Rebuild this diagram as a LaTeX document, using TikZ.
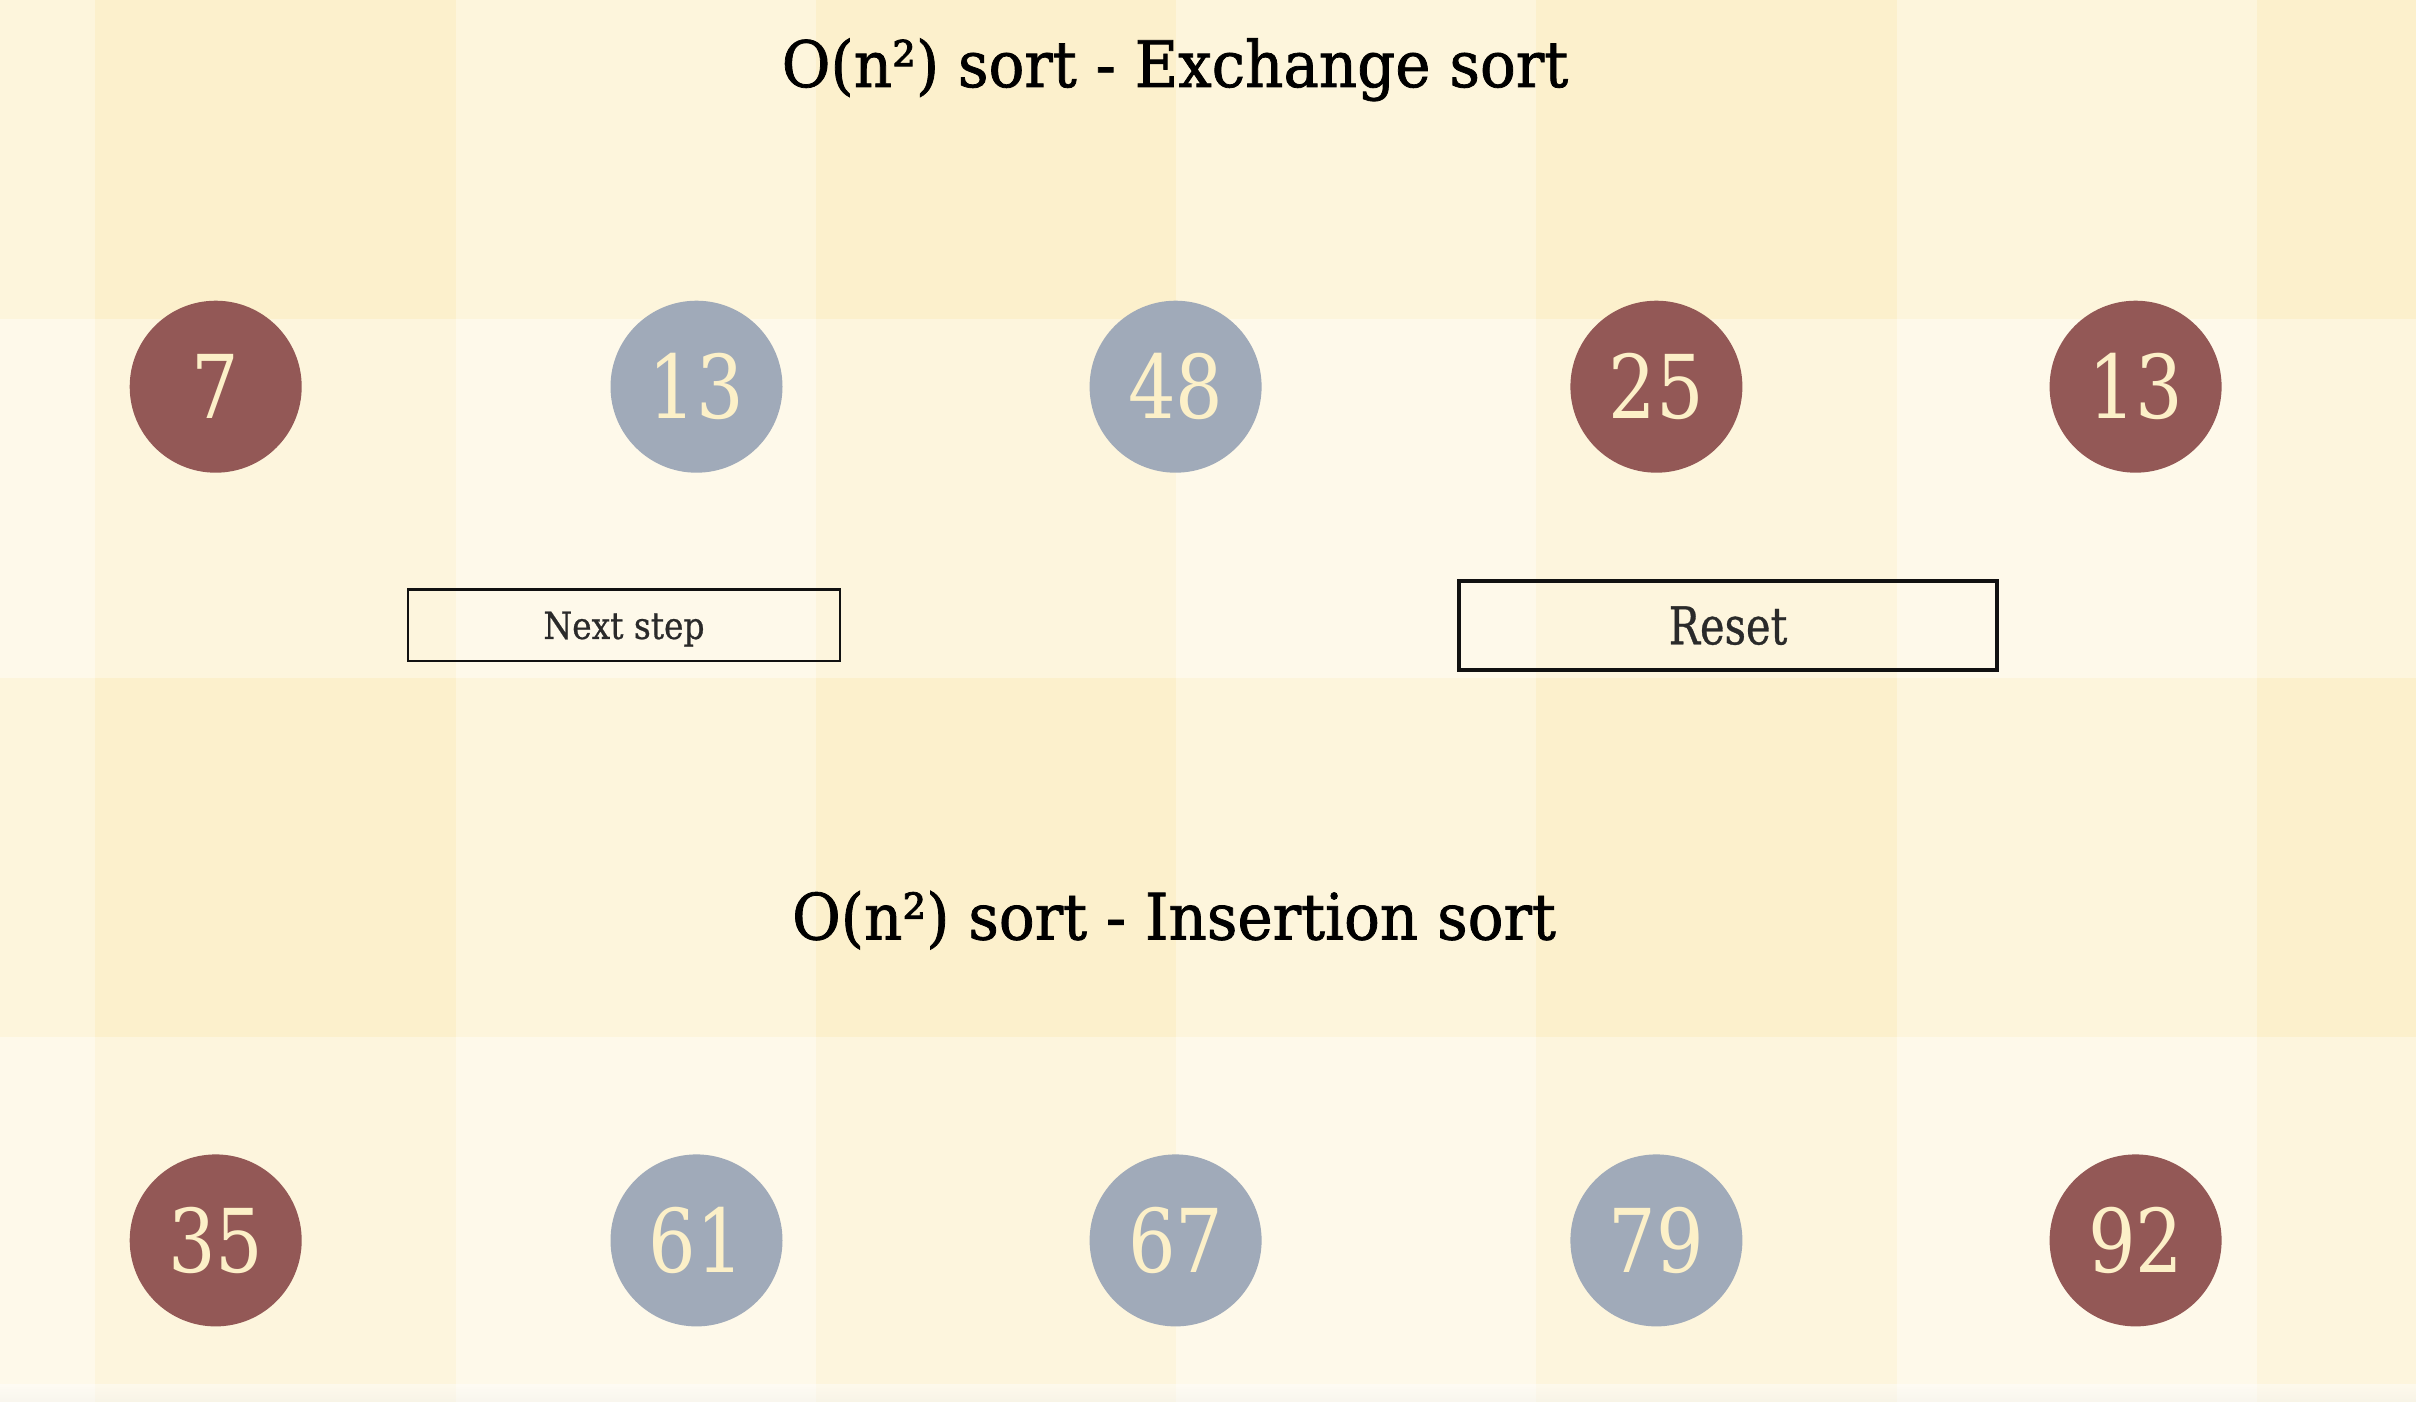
\documentclass[tikz,border=0pt]{standalone}
\usepackage{fontspec}
\setmainfont{DejaVu Serif}
\newfontfamily\titlefont[FakeStretch=0.93,FakeBold=1.2]{DejaVu Serif}
\newfontfamily\numfont[FakeStretch=0.85]{DejaVu Serif}
\newfontfamily\btnfontA[FakeStretch=0.88,FakeBold=0.6]{DejaVu Serif}
\newfontfamily\btnfontB[FakeStretch=0.80,FakeBold=0.6]{DejaVu Serif}
\definecolor{cDD}{HTML}{FCF0CC}
\definecolor{cDL}{HTML}{FDF5DC}
\definecolor{cLD}{HTML}{FDF5DD}
\definecolor{cLL}{HTML}{FEF9EA}
\definecolor{ballred}{HTML}{935856}
\definecolor{ballblue}{HTML}{A0AAB9}
\definecolor{cream}{HTML}{FCF0C8}
\definecolor{btntext}{HTML}{2A2A2A}
\definecolor{btnline}{HTML}{111111}
\begin{document}
\begin{tikzpicture}[x=0.5pt,y=-0.5pt,
  ball/.style={circle, minimum size=86pt, inner sep=0pt, text=cream,
    font=\numfont\fontsize{44}{44}\selectfont},
  redball/.style={ball, fill=ballred},
  blueball/.style={ball, fill=ballblue},
  title/.style={anchor=base, text=black, inner sep=0pt,
    font=\titlefont\fontsize{32}{32}\selectfont},
  button/.style={draw=btnline, inner sep=0pt, text=btntext, text depth=0pt}
]
\useasboundingbox (0,0) rectangle (2416,1402);
% background plaid
\fill[cLL] (0,0) rectangle (2416,1402);
\foreach \ya/\yb in {0/319, 678/1037}
  \fill[cDL] (0,\ya) rectangle (2416,\yb);
\foreach \xa/\xb in {95/456, 816/1176, 1536/1897, 2257/2416} {
  \fill[cDD] (\xa,0) rectangle (\xb,319);
  \fill[cLD] (\xa,319) rectangle (\xb,678);
  \fill[cDD] (\xa,678) rectangle (\xb,1037);
  \fill[cLD] (\xa,1037) rectangle (\xb,1402);
}
\shade[top color=cLL!0, bottom color=black!5, opacity=0.45] (0,1384) rectangle (2416,1402);

% titles
\node[title] (t1) at (1175,87) {O(n²) sort - Exchange sort};
\node[title] (t2) at (1174,939.5) {O(n²) sort - Insertion sort};

% exchange sort balls
\node[redball]  (a1) at (215.7,386.7) {7};
\node[blueball] (a2) at (696.5,386.7) {13};
\node[blueball] (a3) at (1175.6,386.7) {48};
\node[redball]  (a4) at (1656.4,386.7) {25};
\node[redball]  (a5) at (2135.6,386.7) {13};

% buttons
\node[button, line width=1.4pt, minimum width=216pt, minimum height=35.75pt,
  text height=13.6pt, font=\btnfontA\fontsize{18.7}{18.7}\selectfont]
  (next) at (624,625.3) {Next step};
\node[button, line width=1.6pt, minimum width=269pt, minimum height=44.5pt,
  text height=18.8pt, font=\btnfontB\fontsize{26}{26}\selectfont]
  (reset) at (1728,625.5) {Reset};

% insertion sort balls
\node[redball]  (b1) at (215.7,1240.4) {35};
\node[blueball] (b2) at (696.5,1240.4) {61};
\node[blueball] (b3) at (1175.6,1240.4) {67};
\node[blueball] (b4) at (1656.4,1240.4) {79};
\node[redball]  (b5) at (2135.6,1240.4) {92};
\end{tikzpicture}
\end{document}
